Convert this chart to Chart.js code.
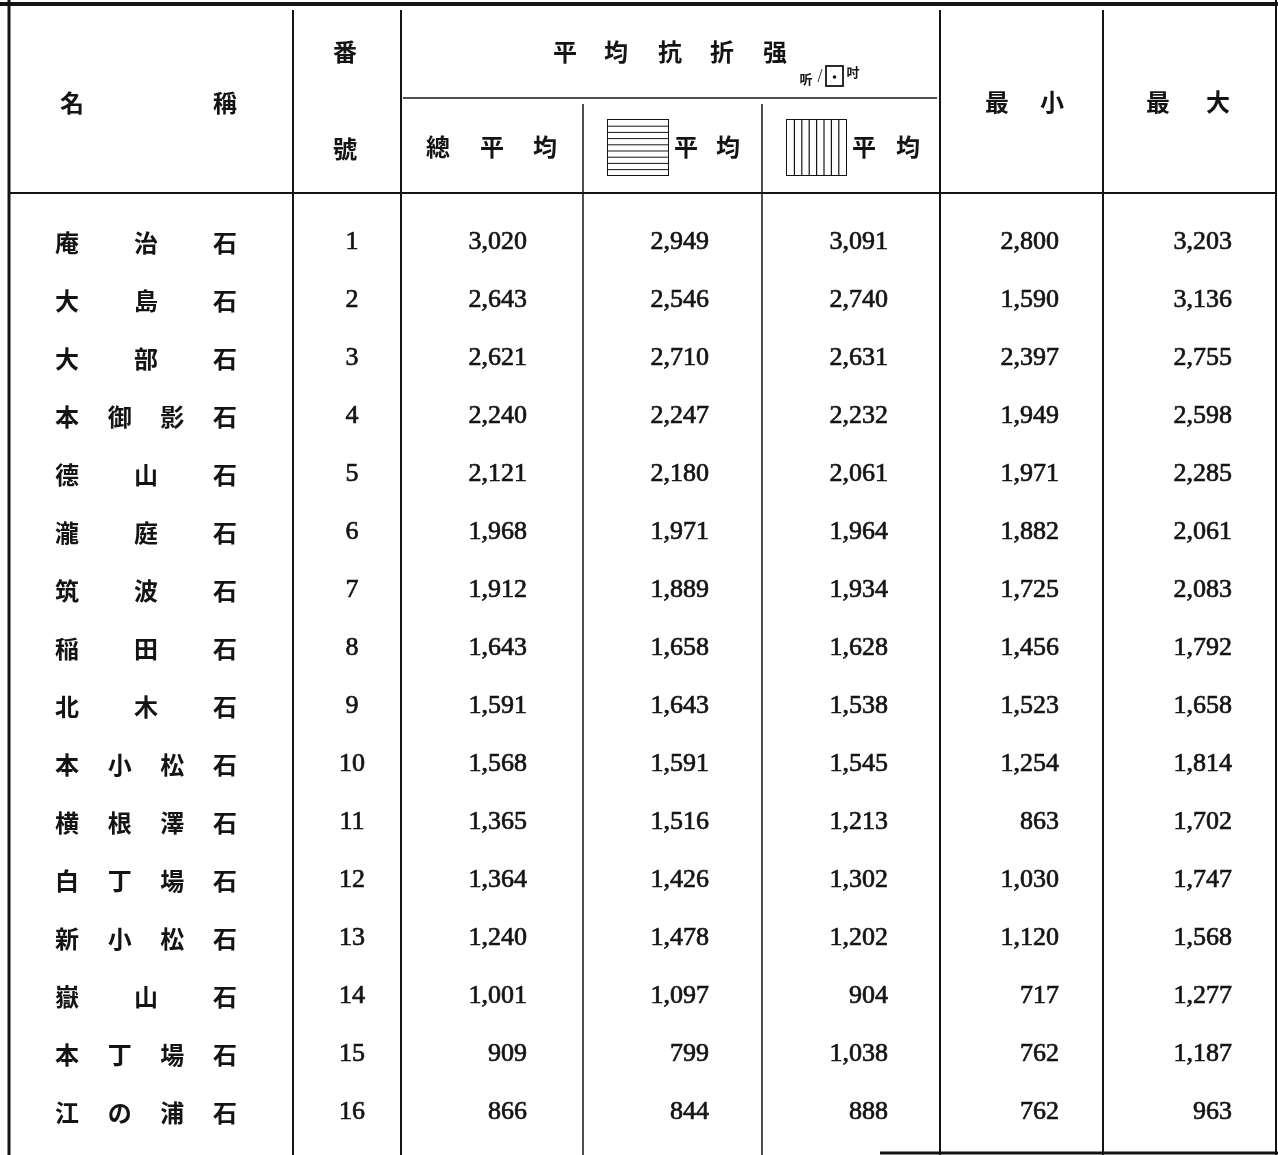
<!DOCTYPE html>
<html>
<head>
<meta charset="utf-8">
<script src="https://cdn.jsdelivr.net/npm/chart.js@4/dist/chart.umd.min.js"></script>
<style>
  body { margin: 0; background: #fff; }
  #chart { display: block; }
</style>
</head>
<body>
<canvas id="chart" width="1278" height="1155"></canvas>
<script>
// table data
const names = ['庵治石', '大島石', '大部石', '本御影石', '德山石', '瀧庭石', '筑波石', '稲田石',
  '北木石', '本小松石', '横根澤石', '白丁場石', '新小松石', '嶽山石', '本丁場石', '江の浦石'];
const numbers = [1, 2, 3, 4, 5, 6, 7, 8, 9, 10, 11, 12, 13, 14, 15, 16];
const totalAvg = [3020, 2643, 2621, 2240, 2121, 1968, 1912, 1643, 1591, 1568, 1365, 1364, 1240, 1001, 909, 866];
const horizAvg = [2949, 2546, 2710, 2247, 2180, 1971, 1889, 1658, 1643, 1591, 1516, 1426, 1478, 1097, 799, 844];
const vertAvg = [3091, 2740, 2631, 2232, 2061, 1964, 1934, 1628, 1538, 1545, 1213, 1302, 1202, 904, 1038, 888];
const minVals = [2800, 1590, 2397, 1949, 1971, 1882, 1725, 1456, 1523, 1254, 863, 1030, 1120, 717, 762, 762];
const maxVals = [3203, 3136, 2755, 2598, 2285, 2061, 2083, 1792, 1658, 1814, 1702, 1747, 1568, 1277, 1187, 963];

// column anchors (x in canvas units) and alignments
const columns = [
  { key: 'name', x: 146, align: 'spread', values: names },
  { key: 'no', x: 352, align: 'center', values: numbers },
  { key: 'total', x: 527, align: 'right', values: totalAvg },
  { key: 'horiz', x: 709, align: 'right', values: horizAvg },
  { key: 'vert', x: 888, align: 'right', values: vertAvg },
  { key: 'min', x: 1059, align: 'right', values: minVals },
  { key: 'max', x: 1232, align: 'right', values: maxVals }
];

const INK = '#141414';
const CJK = '"Noto Sans CJK JP", "Noto Sans CJK SC", sans-serif';
const NUM = '"Liberation Serif", "DejaVu Serif", serif';

function fmt(v) {
  return typeof v === 'number' && v >= 1000 ? v.toLocaleString('en-US') : String(v);
}

// draws the ruled grid and the header
const gridPlugin = {
  id: 'grid',
  beforeDraw(chart) {
    const c = chart.ctx;
    c.save();
    c.fillStyle = '#fff';
    c.fillRect(0, 0, chart.width, chart.height);
    c.strokeStyle = INK;
    c.lineCap = 'butt';

    function line(x1, y1, x2, y2, w) {
      c.lineWidth = w;
      c.beginPath();
      c.moveTo(x1, y1);
      c.lineTo(x2, y2);
      c.stroke();
    }
    // outer frame
    line(0, 4, 1278, 4, 4);
    line(9, 0, 9, 1155, 3);
    line(1276, 0, 1276, 1155, 2);
    line(880, 1153, 1278, 1153, 3);
    // column rules
    [293, 401, 940, 1103].forEach(x => line(x, 10, x, 1155, 2));
    [583, 762].forEach(x => line(x, 104, x, 1155, 1.5));
    // header rules
    line(403, 98, 937, 98, 1.5);
    line(9, 193, 1276, 193, 2);

    // header text
    c.fillStyle = INK;
    c.textAlign = 'center';
    c.textBaseline = 'middle';
    c.font = 'bold 24px ' + CJK;
    const head = [
      ['名', 72, 103], ['稱', 225, 103],
      ['番', 345, 52], ['號', 345, 149],
      ['平', 565, 52], ['均', 616, 52], ['抗', 670, 52], ['折', 722, 52], ['强', 775, 52],
      ['總', 438, 147], ['平', 492, 147], ['均', 545, 147],
      ['平', 686, 147], ['均', 728, 147],
      ['平', 864, 147], ['均', 908, 147],
      ['最', 997, 102], ['小', 1052, 102],
      ['最', 1158, 102], ['大', 1218, 102]
    ];
    head.forEach(([t, x, y]) => c.fillText(t, x, y));

    // unit 听/□吋
    c.font = 'bold 13px ' + CJK;
    c.fillText('听', 806, 79);
    c.font = '18px ' + NUM;
    c.fillText('/', 820, 77);
    c.lineWidth = 1.8;
    c.strokeRect(826, 66, 17, 20);
    c.beginPath();
    c.arc(834.5, 77, 1.8, 0, Math.PI * 2);
    c.fill();
    c.font = 'bold 13px ' + CJK;
    c.fillText('吋', 853, 72);

    // icon with horizontal stripes
    c.lineWidth = 1;
    c.strokeRect(607.5, 119.5, 61, 56);
    for (let i = 1; i < 9; i++) {
      line(608, 120 + i * 6.2, 668, 120 + i * 6.2, 1);
    }
    // icon with vertical stripes
    c.strokeRect(786.5, 119.5, 60, 56);
    for (let i = 1; i < 8; i++) {
      line(787 + i * 7.4, 120, 787 + i * 7.4, 175, 1.2);
    }
    c.restore();
  }
};

// draws each cell text at the point the scales give it
const cellPlugin = {
  id: 'cells',
  afterDatasetsDraw(chart) {
    const c = chart.ctx;
    c.save();
    c.fillStyle = INK;
    c.strokeStyle = INK;
    c.textBaseline = 'middle';
    chart.data.datasets.forEach((ds, d) => {
      const meta = chart.getDatasetMeta(d);
      meta.data.forEach((pt, i) => {
        const label = ds.labels[i];
        if (ds.align === 'spread') {
          c.font = 'bold 24px ' + CJK;
          c.textAlign = 'center';
          const chars = Array.from(label);
          const span = 158;
          chars.forEach((ch, k) => {
            const cx = pt.x - span / 2 + span * k / (chars.length - 1);
            c.fillText(ch, cx, pt.y + 1);
          });
        } else {
          c.font = '26px ' + NUM;
          c.textAlign = ds.align;
          c.lineWidth = 0.7;
          c.fillText(label, pt.x, pt.y);
          c.strokeText(label, pt.x, pt.y);
        }
      });
    });
    c.restore();
  }
};

const datasets = columns.map(col => ({
  label: col.key,
  align: col.align,
  labels: col.values.map(fmt),
  data: col.values.map((v, i) => ({ x: col.x, y: names[i] })),
  pointRadius: 0,
  showLine: false
}));

const ctx = document.getElementById('chart').getContext('2d');
const chart = new Chart(ctx, {
  type: 'scatter',
  data: { labels: names, datasets: datasets },
  options: {
    responsive: false,
    animation: false,
    events: [],
    layout: { padding: { top: 213, bottom: 14, left: 0, right: 0 } },
    scales: {
      x: { type: 'linear', min: 0, max: 1278, display: false },
      y: { type: 'category', labels: names, offset: true, display: false }
    },
    plugins: {
      legend: { display: false },
      tooltip: { enabled: false }
    }
  },
  plugins: [gridPlugin, cellPlugin]
});
</script>
</body>
</html>
